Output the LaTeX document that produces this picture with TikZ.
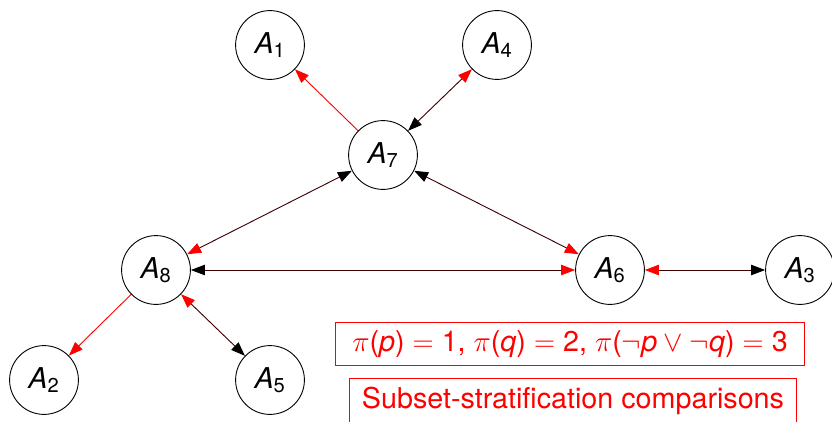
\documentclass[tikz,border=0pt]{standalone}
\usepackage{amsmath,amssymb}
\usepackage{fontspec}
\setmainfont{TeX Gyre Heros}
\usetikzlibrary{arrows.meta}
\definecolor{Maroon}{HTML}{3C0000}
\definecolor{Signal}{HTML}{FF0000}
\newcommand{\sv}[1]{\text{\itshape #1}}
\newcommand{\sn}[1]{\text{#1}}

\begin{document}
\begin{tikzpicture}[x=.025cm,y=-.025cm,line width=.65pt,
  agent/.style={circle,draw,minimum size=1.72cm,inner sep=0pt,
    font=\fontsize{20.4}{24}\selectfont},
  oneway/.style={Signal,-{Triangle[length=3.5mm,width=2.6mm]}},
  both/.style={Maroon,{Triangle[length=3.5mm,width=2.6mm,black]}-{Triangle[length=3.5mm,width=2.6mm,Signal]}},
  infobox/.style={draw=Signal,text=Signal,inner xsep=9pt,inner ysep=6pt,
    font=\fontsize{20.4}{24}\selectfont}]
  \useasboundingbox (0,0) rectangle (832,421);
  % agents
  \node[agent] (a1) at (270,45)  {$\sv{A}_{\sn{1}}$};
  \node[agent] (a4) at (497,45)  {$\sv{A}_{\sn{4}}$};
  \node[agent] (a7) at (383,155) {$\sv{A}_{\sn{7}}$};
  \node[agent] (a8) at (156,270) {$\sv{A}_{\sn{8}}$};
  \node[agent] (a6) at (610,270) {$\sv{A}_{\sn{6}}$};
  \node[agent] (a3) at (800,270) {$\sv{A}_{\sn{3}}$};
  \node[agent] (a2) at (44,380)  {$\sv{A}_{\sn{2}}$};
  \node[agent] (a5) at (270,380) {$\sv{A}_{\sn{5}}$};
  % one-way comparisons
  \draw[oneway] (a7) -- (a1);
  \draw[oneway] (a8) -- (a2);
  % two-way comparisons (black tip first, red tip second)
  \draw[both] (a7) -- (a4);
  \draw[both] (a7) -- (a8);
  \draw[both] (a7) -- (a6);
  \draw[both] (a8) -- (a6);
  \draw[both] (a3) -- (a6);
  \draw[both] (a5) -- (a8);
  % labels
  \node[infobox,inner xsep=12pt] (rank) at (570,344)
    {$\pi\sn{(}\sv{p}\sn{)}=\sn{1}$, $\pi\sn{(}\sv{q}\sn{)}=\sn{2}$,
     $\pi\sn{(}\neg\sv{p}\vee\neg\sv{q}\sn{)}=\sn{3}$};
  \node[infobox,anchor=north] (title) at (573,378) {Subset-stratification comparisons};
\end{tikzpicture}
\end{document}
